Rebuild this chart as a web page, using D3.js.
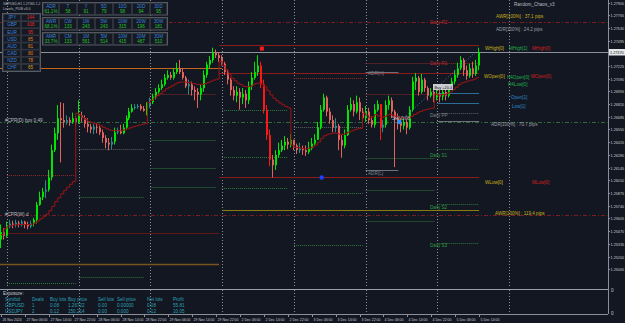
<!DOCTYPE html>
<html><head><meta charset="utf-8">
<script src="https://cdn.jsdelivr.net/npm/d3@7"></script>
<style>html,body{margin:0;padding:0;background:#131722;overflow:hidden}svg{display:block}</style>
</head><body><svg id="c" width="625" height="323"></svg>
<script>
// ---------- DATA ----------
const firstOpen = 1.2538;
const closes = [
1.2546,1.2542,
1.2552,1.2555,1.2554,1.2556,1.2555,1.2557,1.2554,1.2552,1.2555,1.2559,1.2575,1.2583,1.2589,1.2591,1.2604,1.2633,1.2651,1.2667,1.2665,1.2663,1.2665,1.2663,1.2667,1.2663,
1.2670,1.2667,1.2661,1.2658,1.2655,1.2658,1.2657,1.2652,1.2646,1.2641,1.2639,1.2642,1.2652,1.2653,1.2651,1.2657,1.2667,1.2674,1.2678,1.2679,1.2680,1.2677,1.2675,1.2681,
1.2684,1.2690,1.2695,1.2699,1.2703,1.2710,1.2713,1.2710,1.2716,1.2720,1.2716,1.2710,1.2701,1.2703,1.2697,1.2695,1.2692,1.2699,1.2713,1.2724,1.2729,1.2737,1.2734,1.2731,
1.2725,1.2716,1.2708,1.2697,1.2691,1.2695,1.2689,1.2693,1.2686,1.2701,1.2710,1.2716,1.2723,1.2703,1.2676,1.2649,1.2623,1.2617,1.2628,1.2633,1.2638,1.2642,1.2639,1.2644,
1.2638,1.2633,1.2635,1.2633,1.2631,1.2635,1.2640,1.2644,1.2657,1.2676,1.2689,1.2674,1.2665,1.2657,1.2659,1.2644,1.2638,1.2649,1.2676,1.2682,1.2674,1.2684,1.2674,1.2667,
1.2674,1.2665,1.2660,1.2676,1.2682,1.2657,1.2660,1.2681,1.2686,1.2674,1.2667,1.2663,1.2659,1.2663,1.2657,1.2676,1.2706,1.2710,1.2695,1.2708,1.2699,1.2691,1.2695,1.2689,
1.2693,1.2690,1.2695,1.2691,1.2699,1.2706,1.2713,1.2720,1.2729,1.2718,1.2712,1.2720,1.2714,1.2723,1.2737];
const highs = [
1.2554,1.2550,
1.2557,1.2559,1.2558,1.2559,1.2558,1.2559,1.2558,1.2557,1.2558,1.2561,1.2578,1.2589,1.2593,1.2601,1.2612,1.2639,1.2657,1.2681,1.2684,1.2683,1.2670,1.2668,1.2673,1.2669,
1.2686,1.2674,1.2670,1.2667,1.2661,1.2661,1.2662,1.2659,1.2655,1.2649,1.2646,1.2647,1.2657,1.2657,1.2660,1.2661,1.2670,1.2678,1.2682,1.2682,1.2682,1.2682,1.2680,1.2684,
1.2689,1.2693,1.2699,1.2703,1.2708,1.2714,1.2718,1.2716,1.2720,1.2726,1.2729,1.2720,1.2712,1.2708,1.2706,1.2701,1.2699,1.2703,1.2718,1.2727,1.2733,1.2742,1.2740,1.2737,
1.2734,1.2727,1.2718,1.2710,1.2701,1.2701,1.2699,1.2699,1.2697,1.2706,1.2716,1.2727,1.2734,1.2727,1.2708,1.2681,1.2655,1.2628,1.2633,1.2641,1.2644,1.2648,1.2646,1.2650,
1.2644,1.2640,1.2641,1.2638,1.2638,1.2642,1.2646,1.2650,1.2663,1.2681,1.2693,1.2691,1.2678,1.2670,1.2667,1.2661,1.2649,1.2655,1.2681,1.2689,1.2686,1.2691,1.2689,1.2678,
1.2680,1.2678,1.2669,1.2682,1.2686,1.2682,1.2665,1.2686,1.2691,1.2689,1.2676,1.2672,1.2667,1.2667,1.2665,1.2680,1.2711,1.2715,1.2712,1.2714,1.2710,1.2701,1.2699,1.2697,
1.2699,1.2697,1.2699,1.2699,1.2703,1.2710,1.2718,1.2726,1.2733,1.2731,1.2723,1.2725,1.2727,1.2729,1.2742];
const lows = [
1.2529,1.2538,
1.2540,1.2550,1.2550,1.2551,1.2551,1.2552,1.2550,1.2549,1.2550,1.2552,1.2555,1.2574,1.2580,1.2582,1.2589,1.2601,1.2631,1.2644,1.2620,1.2657,1.2660,1.2659,1.2661,1.2659,
1.2661,1.2663,1.2657,1.2652,1.2651,1.2650,1.2651,1.2649,1.2641,1.2635,1.2633,1.2634,1.2639,1.2650,1.2650,1.2650,1.2655,1.2665,1.2673,1.2676,1.2677,1.2675,1.2674,1.2670,
1.2678,1.2682,1.2687,1.2693,1.2697,1.2701,1.2708,1.2708,1.2708,1.2714,1.2714,1.2708,1.2699,1.2692,1.2691,1.2686,1.2678,1.2686,1.2695,1.2710,1.2720,1.2726,1.2731,1.2727,
1.2723,1.2713,1.2703,1.2691,1.2686,1.2684,1.2676,1.2682,1.2678,1.2682,1.2697,1.2708,1.2712,1.2699,1.2672,1.2644,1.2616,1.2604,1.2612,1.2625,1.2631,1.2633,1.2634,1.2636,
1.2633,1.2629,1.2630,1.2628,1.2627,1.2629,1.2633,1.2638,1.2644,1.2655,1.2674,1.2669,1.2661,1.2652,1.2652,1.2633,1.2625,1.2635,1.2648,1.2674,1.2669,1.2672,1.2665,1.2663,
1.2663,1.2661,1.2657,1.2657,1.2674,1.2644,1.2652,1.2657,1.2676,1.2667,1.2615,1.2655,1.2652,1.2655,1.2650,1.2655,1.2674,1.2697,1.2691,1.2693,1.2695,1.2686,1.2689,1.2684,
1.2686,1.2684,1.2686,1.2686,1.2689,1.2697,1.2703,1.2710,1.2718,1.2712,1.2708,1.2710,1.2710,1.2712,1.2718];

const dayStarts = [0,2,26,50,74,98,122,146,170];          // bar index where each day begins
const separatorBars = [2,26,50,74,98,122,146,170];
const timeLabels = ["26 Nov 2024","27 Nov 06:00","27 Nov 14:00","27 Nov 22:00","28 Nov 06:00","28 Nov 14:00","28 Nov 22:00",
  "29 Nov 06:00","29 Nov 14:00","29 Nov 22:00","2 Dec 06:00","2 Dec 14:00","2 Dec 22:00","3 Dec 06:00","3 Dec 14:00",
  "3 Dec 22:00","4 Dec 06:00","4 Dec 14:00","4 Dec 22:00","5 Dec 06:00","5 Dec 14:00"];
const timeLabelBars = [0,8,16,24,32,40,48,56,64,72,80,88,96,104,112,120,128,136,144,152,160];
const priceTicks = [1.27900,1.27765,1.27630,1.27495,1.27360,1.27225,1.27090,1.26955,1.26820,1.26685,1.26550,
  1.26415,1.26280,1.26145,1.26010,1.25875,1.25740,1.25605,1.25470,1.25335,1.25200,1.25065];

// horizontal levels: price, from bar, to bar, kind
const levelPrices = [1.2769,1.2564,1.2663,1.2720,1.2512,1.2715,1.2745,1.2604,1.2569,1.2545,
  1.2607,1.2492, 1.2634,1.2583,1.2498, 1.2693,1.2644,1.2614,1.2594, 1.2676,1.2626,1.2593,
  1.2658,1.2710,1.2588,1.2532, 1.2693,1.2726,1.2625,1.2591,1.2558,1.2716,1.2612,
  1.2726,1.2673,1.2634,1.2576,1.2534,1.2694,1.2683,1.2664];
const levelFrom = [-1,-1,-1,-1,-1,73,73,73,74,2, 2,2, 26,26,26, 50,50,50,50, 74,74,74,
  98,98,98,98, 122,122,122,122,122,122,122, 146,146,146,146,146,146,146,146];
const levelTo = [203,203,203,74,73,160,160,160,160,73, 25,25, 48,48,48, 72,72,72,72, 96,96,96,
  121,121,121,121, 145,145,145,145,145,133,133, 160,160,160,160,160,160,160,160];
const levelKind = ["awr","awr","adr","wk","wkLow","red","red","red","olive","darkred",
  "r","s", "pp","s","s", "r","s","s","s", "s","s","s",
  "pp","r","s","s", "r","r","s","s","s","grey","grey",
  "r","pp","s","s","s","blue","blue","grey"];

const currencies = ["JPY","GBP","EUR","USD","AUD","CAD","NZD","CHF"];
const strengths = [144,108,95,85,81,80,78,65];
const rangeHeaders = [["ADR","T","Y","5D","10D","20D","30D"],["AWR","CW","1W","5W","10W","20W","30W"],["AMR","CM","1M","5M","10M","20M","30M"]];
const rangeValues = [["61.1%","58","91","79","98","94","95"],["68.1%","133","243","243","315","196","181"],["33.7%","133","561","514","415","487","510"]];
const exposureHeaders = ["Symbol","Deals","Buy lots","Buy price","Sell lots","Sell price","Net lots","Profit"];
const exposureRows = [["GBPUSD","1","0.08","1.26722","0.00","0.00000","0.08","55.81"],["USDJPY","2","0.12","150.214","0.00","0.000","0.12","10.05"]];

// ---------- DRAW ----------
const svg = d3.select("#c");
const W=625,H=323, axisX=608, chartBottom=288;
const x = d3.scaleLinear().domain([0,170]).range([1,509]);
const y = d3.scaleLinear().domain([priceTicks[0], priceTicks[priceTicks.length-1]]).range([2.5,269.2]);
const FONT = "'Liberation Sans', Arial, sans-serif";

svg.append("rect").attr("width",W).attr("height",H).attr("fill","#131722");

const chart = svg.append("g");
chart.append("clipPath").attr("id","clp").append("rect").attr("x",0).attr("y",0).attr("width",axisX).attr("height",chartBottom);
const g = chart.append("g").attr("clip-path","url(#clp)");

// day separators
g.selectAll(".sep").data(separatorBars).join("line")
  .attr("x1",d=>Math.round(x(d))+0.5).attr("x2",d=>Math.round(x(d))+0.5)
  .attr("y1",0).attr("y2",chartBottom).attr("stroke","#8a8f99").attr("stroke-width",1).attr("stroke-dasharray","1,2");

// level styles
const levelStyle = {
  awr:{c:"#7a1c22",w:1,d:"4,2,1,2"}, adr:{c:"#2f6b3c",w:1,d:"4,2,1,2"},
  wk:{c:"#c4651c",w:1,d:null}, wkLow:{c:"#7a5420",w:1.5,d:null},
  red:{c:"#8e1b1b",w:1,d:null}, olive:{c:"#8a7a12",w:1,d:null}, darkred:{c:"#5e1818",w:1,d:null},
  r:{c:"#8a2a2a",w:1,d:"1,1"}, s:{c:"#2f7a3a",w:1,d:"1,1"}, pp:{c:"#5a5f68",w:1,d:"1,1"},
  grey:{c:"#6b7079",w:1,d:null}, blue:{c:"#2a6d96",w:1,d:null}
};
const levels = levelPrices.map((p,i)=>({p, a:levelFrom[i], b:levelTo[i], k:levelKind[i]}));
g.selectAll(".lvl").data(levels).join("line")
  .attr("x1",d=>x(d.a)).attr("x2",d=>x(d.b))
  .attr("y1",d=>Math.round(y(d.p))+0.5).attr("y2",d=>Math.round(y(d.p))+0.5)
  .attr("stroke",d=>levelStyle[d.k].c).attr("stroke-width",d=>levelStyle[d.k].w)
  .attr("stroke-dasharray",d=>levelStyle[d.k].d);

// bid line
const last = closes[closes.length-1];
g.append("line").attr("x1",0).attr("x2",axisX).attr("y1",Math.round(y(last))+0.5).attr("y2",Math.round(y(last))+0.5)
  .attr("stroke","#8c9099").attr("stroke-width",1);

// candles
const bars = closes.map((c,i)=>({i,o:i===0?firstOpen:closes[i-1],c,h:highs[i],l:lows[i]}));
function col(d){
  const diff=d.c-d.o;
  if(diff>=0) return diff>=0.0003?"#00e600":"#1f8e8c";
  return -diff>=0.0018?"#ff1616":"#e2625e";
}
g.selectAll(".wick").data(bars).join("rect")
  .attr("x",d=>Math.round(x(d.i))-1).attr("width",1)
  .attr("y",d=>y(d.h)).attr("height",d=>Math.max(1,y(d.l)-y(d.h))).attr("fill",col);
g.selectAll(".body").data(bars).join("rect")
  .attr("x",d=>Math.round(x(d.i))-1).attr("width",2)
  .attr("y",d=>y(Math.max(d.o,d.c))).attr("height",d=>Math.max(1,Math.abs(y(d.o)-y(d.c)))).attr("fill",col);

// daily anchored average line (typical price)
const avg=[]; let sum=0,n=0;
bars.forEach(d=>{ if(dayStarts.includes(d.i)){sum=0;n=0;} sum+=(d.h+d.l+d.c)/3; n++; avg.push({i:d.i,v:sum/n}); });
g.append("path").datum(avg).attr("fill","none").attr("stroke","#9a1515").attr("stroke-width",1)
  .attr("d",d3.line().x(d=>x(d.i)).y(d=>y(d.v)).curve(d3.curveStepBefore));

// trade line
g.append("line").attr("x1",x(133.3)).attr("y1",y(1.2663)).attr("x2",x(159)).attr("y2",y(1.2738))
  .attr("stroke","#3b7fd0").attr("stroke-dasharray","1,2");
// markers
g.append("rect").attr("x",x(87.3)-2).attr("y",y(1.2741)-2).attr("width",4).attr("height",4).attr("fill","#ff1a1a");
g.append("circle").attr("cx",x(107.3)).attr("cy",y(1.2604)).attr("r",2.2).attr("fill","#1e40ff");
g.append("circle").attr("cx",x(133.3)).attr("cy",y(1.2663)).attr("r",2.2).attr("fill","#2a90ff");

// chart labels
function txt(sel,tx,ty,s,c,anchor){ return sel.append("text").attr("x",tx).attr("y",ty).attr("fill",c).attr("font-size",4.6)
  .attr("font-family",FONT).attr("text-anchor",anchor||"start").text(s); }
const L = svg.append("g");
txt(L,496,18,"AWR[100%] : 37.1 pips","#c9b21a");
txt(L,496,31,"ADR[100%] : 24.2 pips","#9a9ea6");
txt(L,430,24,"Daily R2","#c02828");
txt(L,485,50,"WHigh[0]","#c9b21a"); txt(L,509,50,"MHigh[1]","#1fae4a"); txt(L,532,50,"MHigh[0]","#d02020");
txt(L,430,65,"Daily R1","#c02828");
txt(L,368,75,"ADR(H)","#7d828b");
txt(L,484,78,"WOpen[0]","#c9b21a"); txt(L,507,79,"H4Open[0]","#1fae4a"); txt(L,531,78,"MOpen[0]","#d02020");
txt(L,508,86,"H4Low[0]","#1fae4a");
txt(L,511,99,"Open[1]","#2f86c8"); txt(L,512,108,"Low[1]","#2f86c8");
txt(L,430,117,"Daily PP","#7d828b");
txt(L,491,126,"ADR[100%] : 70.7 pips","#9a9ea6");
txt(L,430,157,"Daily S1","#2f9a45");
txt(L,368,175,"ADR(L)","#7d828b");
txt(L,485,184,"WLow[0]","#c9b21a"); txt(L,532,184,"MLow[0]","#d02020");
txt(L,430,209,"Daily S2","#2f9a45");
txt(L,495,215,"AWR[100%] : 119.4 pips","#c9b21a");
txt(L,430,247,"Daily S3","#2f9a45");
txt(L,5,122,"#CPR(D) box 0.49","#b9bcc2");
txt(L,5,216,"#CPR(W) d","#b9bcc2");
txt(L,514,6,"Random_Chaos_v3","#b9bcc2");
L.append("rect").attr("x",433).attr("y",84).attr("width",20).attr("height",6).attr("fill","#c9ccd1");
txt(L,434.5,88.8,"Buy +20.4","#202020").attr("font-size",3.9);
txt(L,392,120,"Sell 0.08","#b9bcc2");

// ---------- top-left panels ----------
const P = svg.append("g").attr("font-family",FONT);
txt(P,3,4.5,"GBPUSD,H1 1.27365 1.2","#b9bcc2").attr("font-size",3.3);
txt(P,3,9.5,"Levels_PUB v3.0","#b9bcc2").attr("font-size",3.6);
P.append("rect").attr("x",2.5).attr("y",13.5).attr("width",38).attr("height",58).attr("fill","#161b26").attr("stroke","#555a63");
currencies.forEach((cname,k)=>{
  const ry = 14.5+k*7.1;
  P.append("rect").attr("x",3.5).attr("y",ry).attr("width",17).attr("height",6.3).attr("fill","#141924").attr("stroke","#3f444d").attr("stroke-width",0.6);
  P.append("rect").attr("x",21.5).attr("y",ry).attr("width",18).attr("height",6.3).attr("fill","#141924").attr("stroke","#3f444d").attr("stroke-width",0.6);
  txt(P,12,ry+4.8,cname,"#3a82d6","middle");
  const v=strengths[k]; const c = v>=95?"#e02a2a":(v>=70?"#e0821f":"#d8a21e");
  txt(P,30.5,ry+4.8,String(v),c,"middle");
});
const colX=[43,59,77,95,113,132,150,167];
rangeHeaders.forEach((row,r)=>{
  const by = 2.5 + r*15;
  P.append("rect").attr("x",42.5).attr("y",by).attr("width",125).attr("height",12.5).attr("fill","#161b26").attr("stroke","#555a63");
  row.forEach((h,k)=>{
    P.append("rect").attr("x",colX[k]+0.5).attr("y",by+0.7).attr("width",colX[k+1]-colX[k]-1).attr("height",11).attr("fill","#141924").attr("stroke","#3f444d").attr("stroke-width",0.6);
    const cx=(colX[k]+colX[k+1])/2;
    txt(P,cx,by+5,h,"#3a82d6","middle");
    txt(P,cx,by+10.8,rangeValues[r][k],"#27c227","middle");
  });
});

// ---------- bottom exposure panel ----------
svg.append("line").attr("x1",0).attr("x2",axisX).attr("y1",289.5).attr("y2",289.5).attr("stroke","#9a9ea6").attr("stroke-width",1.2);
const E = svg.append("g");
txt(E,3,295,"Exposure:","#c8cbd0");
const exX=[5,32,50,68,98,117,147,173];
exposureHeaders.forEach((h,k)=>txt(E,exX[k],301,h,"#2aa0b6"));
exposureRows.forEach((row,r)=>row.forEach((v,k)=>txt(E,exX[k],307+r*6,v,"#2aa0b6")));

// ---------- axes ----------
svg.append("line").attr("x1",axisX+0.5).attr("x2",axisX+0.5).attr("y1",0).attr("y2",314).attr("stroke","#8a8f99");
svg.append("line").attr("x1",0).attr("x2",axisX).attr("y1",314.5).attr("y2",314.5).attr("stroke","#8a8f99");
const A = svg.append("g");
priceTicks.forEach((p,k)=>{
  if(k===4) return;
  const py=Math.round(y(p))+0.5;
  A.append("line").attr("x1",axisX).attr("x2",axisX+2).attr("y1",py).attr("y2",py).attr("stroke","#8a8f99");
  txt(A,610.5,py+1.5,p.toFixed(5),"#c8cbd0").attr("font-size",3.75);
});
txt(A,611,292,"0","#c8cbd0"); txt(A,611,315,"0","#c8cbd0");
// current price box
const by0=Math.round(y(last));
A.append("rect").attr("x",609).attr("y",by0-3).attr("width",16).attr("height",6.5).attr("fill","#e6e7ea");
txt(A,610,by0+1.6,last.toFixed(5),"#101318").attr("font-size",3.75);
// time axis
timeLabelBars.forEach((b,k)=>{
  const tx=Math.round(x(b))+0.5;
  A.append("line").attr("x1",tx).attr("x2",tx).attr("y1",314).attr("y2",317).attr("stroke","#8a8f99");
  const t=txt(A,tx+1,320.5,timeLabels[k],"#c8cbd0").attr("font-size",4);
  t.attr("textLength",timeLabels[k].length>11?21:19).attr("lengthAdjust","spacingAndGlyphs");
});
// day separators in lower panel area
svg.selectAll(".sep2").data(separatorBars).join("line")
  .attr("x1",d=>Math.round(x(d))+0.5).attr("x2",d=>Math.round(x(d))+0.5)
  .attr("y1",290).attr("y2",314).attr("stroke","#8a8f99").attr("stroke-dasharray","1,2");
</script></body></html>
